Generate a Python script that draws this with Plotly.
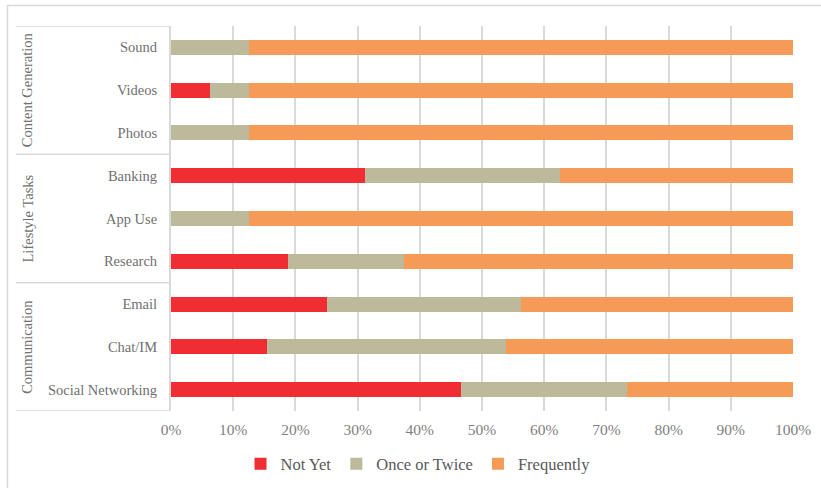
import plotly.graph_objects as go

categories = ["Social Networking", "Chat/IM", "Email", "Research", "App Use",
              "Banking", "Photos", "Videos", "Sound"]
groups = ["Communication", "Lifestyle Tasks", "Content Generation"]
group_members = [["Social Networking", "Chat/IM", "Email"],
                 ["Research", "App Use", "Banking"],
                 ["Photos", "Videos", "Sound"]]

not_yet = [46.67, 15.38, 25.0, 18.75, 0.0, 31.25, 0.0, 6.25, 0.0]
once_twice = [26.67, 38.46, 31.25, 18.75, 12.5, 31.25, 12.5, 6.25, 12.5]
frequently = [26.66, 46.16, 43.75, 62.5, 87.5, 37.5, 87.5, 87.5, 87.5]

x_ticks = [0, 10, 20, 30, 40, 50, 60, 70, 80, 90, 100]

series = [("Not Yet", not_yet, "#EF2D33"),
          ("Once or Twice", once_twice, "#BDB99B"),
          ("Frequently", frequently, "#F69A57")]

FONT = "Liberation Serif, Times New Roman, serif"
GREY = "#707070"

fig = go.Figure()
for name, vals, col in series:
    fig.add_trace(go.Bar(
        y=categories, x=vals, name=name, orientation="h",
        marker=dict(color=col, line=dict(width=0)), width=0.35,
    ))

W, H = 821, 488
ml, mr, mt, mb = 171, 28, 26, 77
pw = W - ml - mr
ph = H - mt - mb

def px2paper_x(px):
    return (px - ml) / pw

def px2paper_y(py):
    return (H - mb - py) / ph

shapes = []
# outer chart border (extends past canvas right/bottom)
shapes.append(dict(type="rect", xref="paper", yref="paper",
                   x0=px2paper_x(7.5), x1=px2paper_x(W + 20),
                   y0=px2paper_y(H + 20), y1=px2paper_y(5.5),
                   line=dict(color="#D9D9D9", width=1.5), layer="below"))
# group divider lines
bounds = [-0.5]
n = 0
for members in group_members:
    n += len(members)
    bounds.append(n - 0.5)
for b in bounds:
    shapes.append(dict(type="line", xref="paper", yref="y",
                       x0=px2paper_x(16), x1=0, y0=b, y1=b,
                       line=dict(color="#D9D9D9", width=1.5)))

annotations = []
for g, members in zip(groups, group_members):
    mid = members[len(members) // 2]
    annotations.append(dict(
        xref="paper", yref="y", x=px2paper_x(27), y=mid, text=g,
        textangle=-90, showarrow=False,
        font=dict(family=FONT, size=14.5, color=GREY),
        xanchor="center", yanchor="middle"))

fig.update_layout(
    barmode="stack",
    width=W, height=H,
    margin=dict(l=ml, r=mr, t=mt, b=mb, pad=0, autoexpand=False),
    paper_bgcolor="white", plot_bgcolor="white",
    font=dict(family=FONT, color=GREY),
    shapes=shapes, annotations=annotations,
    bargap=0.65,
    legend=dict(orientation="h", x=px2paper_x(418), xanchor="center",
                y=px2paper_y(464), yanchor="middle",
                font=dict(family=FONT, size=16.5, color="#595959"),
                itemwidth=30, tracegroupgap=0,
                traceorder="normal"),
    xaxis=dict(range=[0, 100], tickvals=x_ticks,
               ticktext=[f"{v}%" for v in x_ticks],
               showgrid=True, gridcolor="#D9D9D9", gridwidth=1.5,
               zeroline=False, showline=False, ticks="",
               tickfont=dict(family=FONT, size=15.5, color="#7F7F7F"),
               ticklabelstandoff=7, fixedrange=True, automargin=False),
    yaxis=dict(type="category", categoryorder="array", categoryarray=categories,
               range=[-0.5, len(categories) - 0.5],
               showgrid=False, zeroline=False,
               showline=True, linecolor="#D9D9D9", linewidth=2,
               ticks="", tickfont=dict(family=FONT, size=14.5, color=GREY),
               ticklabelstandoff=9, fixedrange=True, automargin=False),
)

fig.write_html("out.html",
               config={"displayModeBar": False},
               post_script="document.body.style.margin='0';"
                           "document.body.style.overflow='hidden';")
